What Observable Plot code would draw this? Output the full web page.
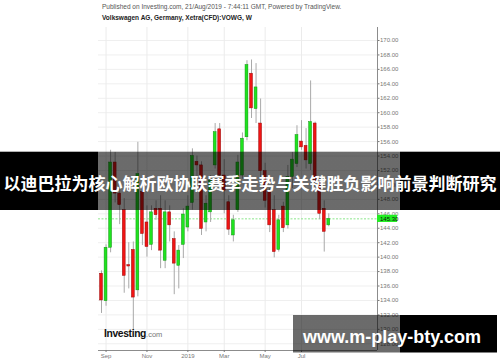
<!DOCTYPE html>
<html>
<head>
<meta charset="utf-8">
<script src="https://cdn.jsdelivr.net/npm/d3@7"></script>
<script src="https://cdn.jsdelivr.net/npm/@observablehq/plot@0.6"></script>
<style>
  html, body { margin: 0; padding: 0; background: #fff; }
  #wrap { position: relative; width: 500px; height: 362px; overflow: hidden; font-family: "Liberation Sans", Arial, sans-serif; }
  #head { position: relative; height: 27px; }
  #pub { position: absolute; left: 102px; top: 3.6px; font-size: 6.5px; line-height: 6.5px; color: #555; white-space: nowrap; }
  #sym { position: absolute; left: 102px; top: 15px; font-size: 6.5px; line-height: 6.5px; font-weight: bold; color: #222; white-space: nowrap; }
  #chart svg { display: block; }
  #overlay { position: absolute; left: 0; top: 0; pointer-events: none; }
</style>
</head>
<body>
<div id="wrap">
  <div id="head">
    <div id="pub">Published on Investing.com, 21/Aug/2019 - 7:44:11 GMT, Powered by TradingView.</div>
    <div id="sym">Volkswagen AG, Germany, Xetra(CFD):VOWG, W</div>
  </div>
  <div id="chart"></div>
  <svg id="overlay" width="500" height="362">
    <defs>
      <linearGradient id="bandFill" x1="0" x2="500" y1="0" y2="0" gradientUnits="userSpaceOnUse">
        <stop offset="0.196" stop-color="#000" stop-opacity="1"/>
        <stop offset="0.196" stop-color="#000" stop-opacity="0.58"/>
        <stop offset="0.8" stop-color="#000" stop-opacity="0.58"/>
        <stop offset="0.8" stop-color="#000" stop-opacity="1"/>
      </linearGradient>
    </defs>
    <!-- Investing.com wordmark -->
    <text x="104" y="336.7" font-family="Liberation Sans, Arial, sans-serif" font-weight="bold" font-size="10.3" letter-spacing="-0.35" fill="#111">Investing<tspan font-weight="normal" font-size="7.5" letter-spacing="0" fill="#777">.com</tspan></text>
    <!-- headline band -->
    <rect x="0" y="151.7" width="500" height="58.3" fill="url(#bandFill)"/>
    <text x="250" y="190" text-anchor="middle" font-family="Noto Sans CJK SC" font-weight="bold" font-size="17" fill="#fff">以迪巴拉为核心解析欧协联赛季走势与关键胜负影响前景判断研究</text>
    <!-- site box -->
    <rect x="293" y="315" width="204" height="37.5" fill="url(#bandFill)"/>
    <text x="303" y="342.5" font-family="Liberation Sans, Arial, sans-serif" font-weight="bold" font-size="18" fill="#fff">www.m-play-bty.com</text>
  </svg>
</div>
<script>
// Weekly bars, VOWG (Xetra CFD), week starting Monday
const weeks = [
  "2018-08-27","2018-09-03","2018-09-10","2018-09-17","2018-09-24","2018-10-01","2018-10-08",
  "2018-10-15","2018-10-22","2018-10-29","2018-11-05","2018-11-12","2018-11-19","2018-11-26",
  "2018-12-03","2018-12-10","2018-12-17","2018-12-24","2018-12-31","2019-01-07","2019-01-14",
  "2019-01-21","2019-01-28","2019-02-04","2019-02-11","2019-02-18","2019-02-25","2019-03-04",
  "2019-03-11","2019-03-18","2019-03-25","2019-04-01","2019-04-08","2019-04-15","2019-04-22",
  "2019-04-29","2019-05-06","2019-05-13","2019-05-20","2019-05-27","2019-06-03","2019-06-10",
  "2019-06-17","2019-06-24","2019-07-01","2019-07-08","2019-07-15","2019-07-22","2019-07-29",
  "2019-08-05","2019-08-12"
];
const open = [137.7,133.9,141.3,153.1,148.8,146.5,138.9,141.0,135.4,149.0,144.8,141.7,146.7,146.7,139.5,146.2,142.5,138.8,141.7,144.1,147.5,153.2,152.7,144.8,146.2,152.7,157.7,151.3,147.6,143.0,146.5,151.3,156.6,165.4,160.5,158.5,151.9,149.0,146.5,141.0,147.0,144.4,151.1,152.9,156.0,155.4,152.9,158.5,150.3,146.7,144.4];
const high = [138.1,141.7,154.8,154.5,149.6,148.1,142.0,142.1,155.9,149.9,147.1,147.1,147.8,148.5,147.8,147.1,143.5,141.6,146.7,148.5,155.0,154.0,153.2,148.5,151.3,158.5,158.5,153.5,148.5,145.8,154.1,157.2,167.2,167.3,166.8,161.9,153.0,149.5,148.5,145.8,147.6,152.7,154.5,158.2,158.9,157.8,164.4,158.7,151.0,147.8,146.0];
const low = [132.2,133.2,140.6,147.5,144.5,135.0,135.6,129.8,134.5,141.6,140.0,140.9,145.1,138.4,138.4,142.1,134.8,135.6,139.8,143.5,146.5,150.5,143.0,143.5,144.8,152.2,150.5,146.0,143.0,142.1,146.2,150.8,156.1,159.2,158.5,151.0,146.8,143.4,139.9,140.7,143.4,143.9,149.5,152.4,154.8,152.2,152.0,149.5,145.2,140.7,144.2];
const close = [134.0,141.3,153.1,148.8,147.2,137.4,138.7,134.4,151.5,143.2,141.4,146.2,145.8,140.9,146.2,144.4,139.1,140.9,145.9,147.0,154.0,152.7,143.9,147.4,150.6,157.3,151.3,149.2,143.8,145.1,153.1,156.4,166.6,160.6,163.5,151.9,147.8,144.4,140.7,145.1,144.0,151.1,153.5,156.9,155.2,153.4,158.7,150.5,146.0,143.5,145.3];

const lastPrice = 145.30;

// Price axis ticks (right side)
const priceTicks = [128,130,132,134,136,138,140,142,144,146,148,150,152,154,156,158,160,162,164,166,168,170];

// Time axis: first weekly bar of every other month
const monthTickDates = ["2018-09-03","2018-11-05","2019-01-07","2019-03-04","2019-05-06","2019-07-01"];
const monthTickLabels = ["Sep","Nov","2019","Mar","May","Jul"];

const bars = weeks.map((w, i) => ({
  date: new Date(w + "T00:00:00Z"),
  open: open[i], high: high[i], low: low[i], close: close[i]
}));
const monthTicks = monthTickDates.map(d => new Date(d + "T00:00:00Z"));
const labelOf = new Map(monthTicks.map((d, i) => [+d, monthTickLabels[i]]));

const xDomain = [new Date("2018-08-22T09:00:00Z"), new Date("2019-10-26T00:00:00Z")];
const yDomain = [127.07, 171.8];

const UP = "#1fe31f", UP_EDGE = "#149414";
const DOWN = "#f01414", DOWN_EDGE = "#9a0a0a";
const halfBody = 53; // hours either side of the bar date

const bodyX1 = d => d3.utcHour.offset(d.date, -halfBody);
const bodyX2 = d => d3.utcHour.offset(d.date, halfBody);

const chart = Plot.plot({
  width: 500,
  height: 335,
  marginTop: 0,
  marginBottom: 12,
  marginLeft: 98,
  marginRight: 123,
  style: { fontFamily: "Liberation Sans, Arial, sans-serif", background: "transparent", overflow: "visible" },
  x: { type: "utc", domain: xDomain },
  y: { domain: yDomain },
  marks: [
    // grid
    Plot.ruleY(priceTicks, { stroke: "#efefef", strokeWidth: 1 }),
    Plot.ruleX(monthTicks, { stroke: "#ebebeb", strokeWidth: 1 }),
    // last price line
    Plot.ruleY([lastPrice], { stroke: "#8be58b", strokeWidth: 1, strokeDasharray: "2,1.5" }),
    // wicks
    Plot.ruleX(bars, { x: "date", y1: "low", y2: "high", stroke: "#a9a9a9", strokeWidth: 1 }),
    // bodies
    Plot.rect(bars, {
      filter: d => d.close >= d.open,
      x1: bodyX1, x2: bodyX2, y1: "open", y2: "close",
      fill: UP, stroke: UP_EDGE, strokeWidth: 0.5
    }),
    Plot.rect(bars, {
      filter: d => d.close < d.open,
      x1: bodyX1, x2: bodyX2, y1: "open", y2: "close",
      fill: DOWN, stroke: DOWN_EDGE, strokeWidth: 0.5
    }),
    // frame lines (price axis + time axis)
    Plot.ruleX([xDomain[1]], { stroke: "#8c8c8c", strokeWidth: 1 }),
    Plot.ruleY([yDomain[0]], { stroke: "#8c8c8c", strokeWidth: 1 }),
    Plot.axisY(priceTicks, {
      anchor: "right", tickSize: 1.5, tickPadding: 1,
      tickFormat: d => d.toFixed(2), fontSize: 6, color: "#777"
    }),
    Plot.axisX(monthTicks, {
      anchor: "bottom", tickSize: 2, tickPadding: 1.5,
      tickFormat: d => labelOf.get(+d), fontSize: 6, color: "#777"
    }),
    // last price tag
    Plot.rect([lastPrice], {
      x1: () => xDomain[1], x2: () => d3.utcDay.offset(xDomain[1], 31),
      y1: d => d - 0.5, y2: d => d + 0.5, fill: "#22ee22"
    }),
    Plot.text([lastPrice], {
      x: () => xDomain[1], y: d => d, text: d => d.toFixed(2),
      textAnchor: "start", dx: 2.5, fontSize: 6, fill: "#111"
    })
  ]
});
document.getElementById("chart").appendChild(chart);
</script>
</body>
</html>
